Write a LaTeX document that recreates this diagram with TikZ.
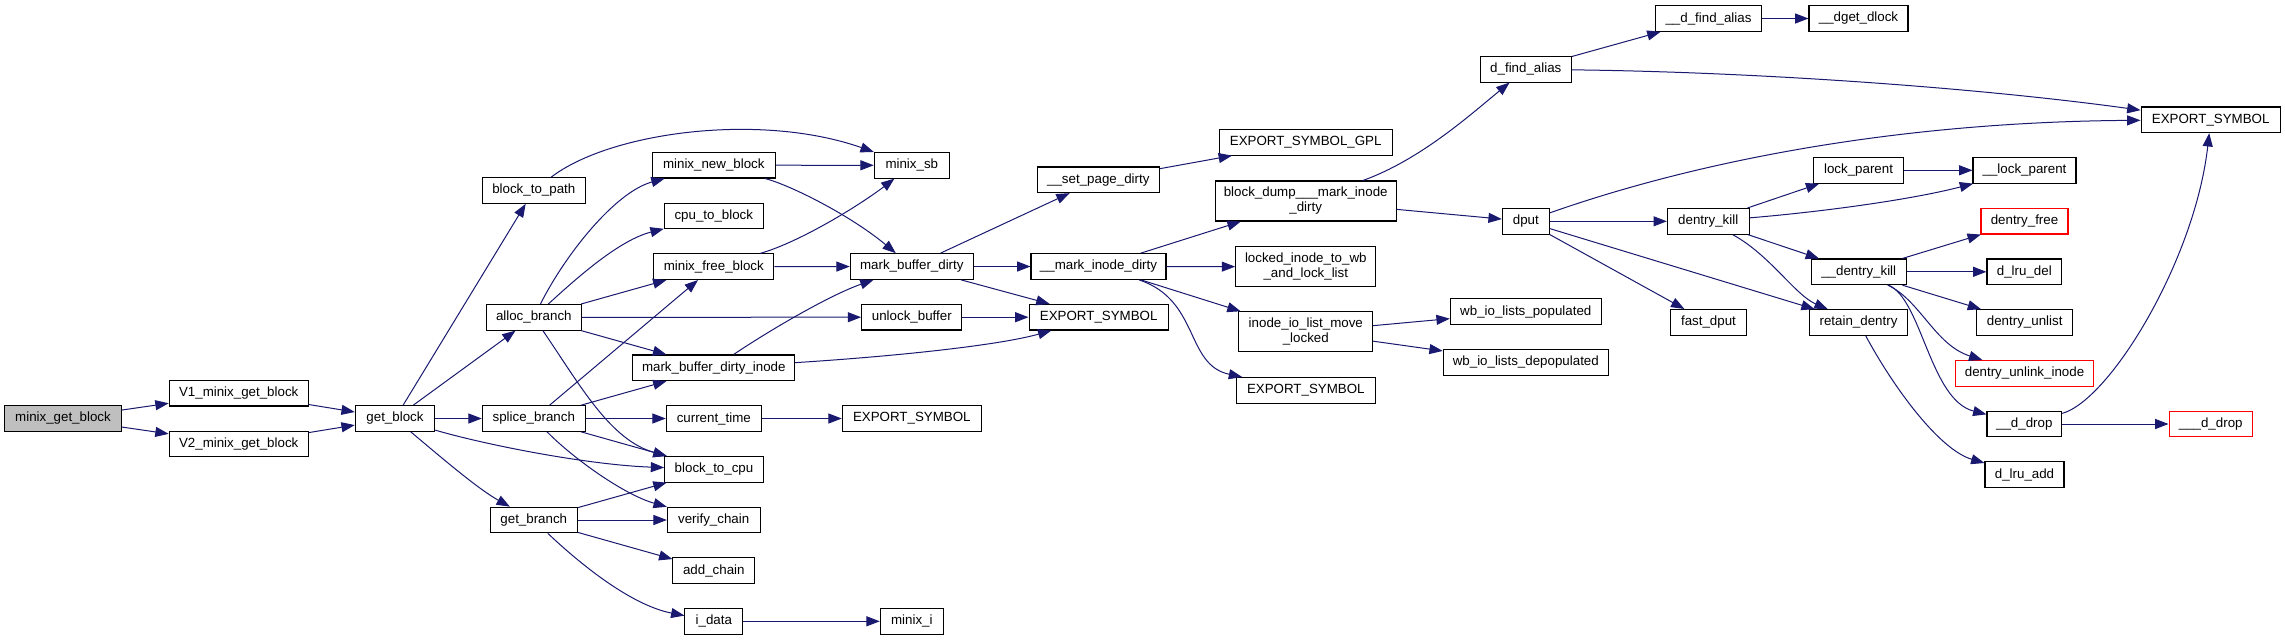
\documentclass[tikz,border=0pt]{standalone}
\usepackage{fontspec}
\setmainfont{Liberation Sans}
\usepackage{xcolor}
\definecolor{edgeblue}{RGB}{25,25,112}
\definecolor{rootgray}{RGB}{191,191,191}
\definecolor{truncred}{RGB}{255,0,0}
\usepackage{tikz}
\usetikzlibrary{arrows.meta}

\begin{document}
\begin{tikzpicture}[
        x=0.75pt, y=-0.75pt,
        func/.style={rectangle, draw=black, line width=0.8pt, fill=white, inner sep=0pt, minimum height=19.2pt, align=center, font=\fontsize{10pt}{11.25pt}\selectfont},
        tall/.style={minimum height=30pt},
        root/.style={func, fill=rootgray},
        trunc/.style={func, draw=truncred},
        wd/.style={minimum width=#1*0.75pt},
        call/.style={-{Triangle[length=10pt,width=7.5pt]}, draw=edgeblue, line width=0.75pt}
    ]
        \path[use as bounding box, fill=white] (0,0) rectangle (2285,640);

        \node[root, wd=117] (mgb) at (63,418.5) {minix\_get\_block};
        \node[func, wd=139] (v1) at (238.7,393.2) {V1\_minix\_get\_block};
        \node[func, wd=139] (v2) at (238.7,444) {V2\_minix\_get\_block};
        \node[func, wd=79.4] (getblock) at (395,418.5) {get\_block};

        \node[func, wd=103] (btopath) at (533.8,190.5) {block\_to\_path};
        \node[func, wd=95] (alloc) at (533.8,317.3) {alloc\_branch};
        \node[func, wd=103] (splice) at (533.8,418.5) {splice\_branch};
        \node[func, wd=87] (getbranch) at (533.8,520) {get\_branch};

        \node[func, wd=123] (newblock) at (713.8,165.2) {minix\_new\_block};
        \node[func, wd=99] (cputob) at (713.8,216) {cpu\_to\_block};
        \node[func, wd=120.3] (freeblock) at (713.8,266.7) {minix\_free\_block};
        \node[func, wd=161.7] (mbdinode) at (713.8,367.8) {mark\_buffer\_dirty\_inode};
        \node[func, wd=95] (curtime) at (713.8,418.5) {current\_time};
        \node[func, wd=98.6] (btocpu) at (714,469.3) {block\_to\_cpu};
        \node[func, wd=92.7] (verify) at (713.7,520) {verify\_chain};
        \node[func, wd=81.7] (addchain) at (713.8,570.7) {add\_chain};
        \node[func, wd=57.7] (idata) at (713.8,621.3) {i\_data};

        \node[func, wd=75] (minixsb) at (911.8,165.3) {minix\_sb};
        \node[func, wd=123] (mbd) at (911.8,266.5) {mark\_buffer\_dirty};
        \node[func, wd=100.3] (unlock) at (911.8,317.2) {unlock\_buffer};
        \node[func, wd=139] (expA) at (911.8,418.5) {EXPORT\_SYMBOL};
        \node[func, wd=63] (minixi) at (911.8,621.3) {minix\_i};

        \node[func, wd=122] (setpage) at (1098.3,179.8) {\_\_set\_page\_dirty};
        \node[func, wd=135] (markinode) at (1098.5,266.5) {\_\_mark\_inode\_dirty};
        \node[func, wd=139.3] (expB) at (1098.7,317.2) {EXPORT\_SYMBOL};

        \node[func, wd=172.7] (expgpl) at (1305.7,142.3) {EXPORT\_SYMBOL\_GPL};
        \node[func, tall, wd=180.7] (blkdump) at (1305.7,201) {block\_dump\_\_\_mark\_inode\\\_dirty};
        \node[func, tall, wd=140.3] (lockedinode) at (1305.8,266.7) {locked\_inode\_to\_wb\\\_and\_lock\_list};
        \node[func, tall, wd=133.7] (iolist) at (1305.8,331.8) {inode\_io\_list\_move\\\_locked};
        \node[func, wd=139] (expC) at (1305.8,390.3) {EXPORT\_SYMBOL};

        \node[func, wd=91] (dfind) at (1525.8,69.3) {d\_find\_alias};
        \node[func, wd=47] (dput) at (1525.8,221.3) {dput};
        \node[func, wd=151] (wbpop) at (1525.8,311.7) {wb\_io\_lists\_populated};
        \node[func, wd=165] (wbdepop) at (1525.8,362.5) {wb\_io\_lists\_depopulated};

        \node[func, wd=105.6] (udfind) at (1708.5,18.5) {\_\_d\_find\_alias};
        \node[func, wd=81.7] (dkill) at (1708.2,221.3) {dentry\_kill};
        \node[func, wd=76.4] (fastdput) at (1708.5,322.3) {fast\_dput};

        \node[func, wd=99] (dget) at (1858.5,18.5) {\_\_dget\_dlock};
        \node[func, wd=89.6] (lockpar) at (1858.5,170.3) {lock\_parent};
        \node[func, wd=95.3] (udkill) at (1858.7,271.8) {\_\_dentry\_kill};
        \node[func, wd=97.6] (retain) at (1858.5,322.5) {retain\_dentry};

        \node[func, wd=103] (ulockpar) at (2024.5,170.3) {\_\_lock\_parent};
        \node[trunc, wd=87] (dfree) at (2024.5,221.2) {dentry\_free};
        \node[func, wd=74.7] (lrudel) at (2024.3,271.8) {d\_lru\_del};
        \node[func, wd=96] (unlist) at (2024.7,322.5) {dentry\_unlist};
        \node[trunc, wd=137.6] (unlinkin) at (2024.5,373.3) {dentry\_unlink\_inode};
        \node[func, wd=74.7] (uddrop) at (2024.3,424) {\_\_d\_drop};
        \node[func, wd=79] (lruadd) at (2024.5,474.7) {d\_lru\_add};

        \node[func, wd=139.3] (expD) at (2210.7,119.8) {EXPORT\_SYMBOL};
        \node[trunc, wd=83.3] (uuddrop) at (2210.7,424) {\_\_\_d\_drop};

        \foreach \a/\b in {mgb/v1, mgb/v2, v1/getblock, v2/getblock, getblock/btopath, getblock/alloc,
                getblock/splice, alloc/freeblock, alloc/unlock, alloc/mbdinode, splice/freeblock,
                splice/mbdinode, splice/curtime, splice/btocpu, getbranch/btocpu, getbranch/verify,
                getbranch/addchain, newblock/minixsb, freeblock/mbd, curtime/expA, idata/minixi,
                mbd/setpage, mbd/markinode, mbd/expB, unlock/expB, setpage/expgpl, markinode/blkdump,
                markinode/lockedinode, markinode/iolist, blkdump/dput, iolist/wbpop, iolist/wbdepop,
                dfind/udfind, dput/dkill, dput/fastdput, dput/retain, udfind/dget, dkill/lockpar,
                dkill/udkill, lockpar/ulockpar, udkill/dfree, udkill/lrudel, udkill/unlist, uddrop/uuddrop} {
            \draw[call] (\a) -- (\b);
        }

        \draw[call] (getblock) .. controls (490,446) and (590,465) .. (btocpu);
        \draw[call] (getblock) .. controls (450,465) and (480,490) .. (getbranch);
        \draw[call] (btopath) .. controls (610,132) and (760,112) .. (minixsb);
        \draw[call] (alloc) .. controls (565,255) and (615,192) .. (newblock);
        \draw[call] (alloc) .. controls (580,275) and (620,240) .. (cputob);
        \draw[call] (alloc) .. controls (580,385) and (610,440) .. (btocpu);
        \draw[call] (splice) .. controls (575,460) and (625,495) .. (verify);
        \draw[call] (getbranch) .. controls (578,562) and (630,605) .. (idata);
        \draw[call] (newblock) .. controls (790,185) and (850,215) .. (mbd);
        \draw[call] (freeblock) .. controls (800,242) and (860,205) .. (minixsb);
        \draw[call] (mbdinode) .. controls (770,330) and (830,295) .. (mbd);
        \draw[call] (mbdinode) .. controls (900,356) and (1000,345) .. (expB);
        \draw[call] (markinode) .. controls (1200,300) and (1185,365) .. (expC);
        \draw[call] (blkdump) .. controls (1420,160) and (1470,115) .. (dfind);
        \draw[call] (dfind) .. controls (1760,72) and (1980,88) .. (expD);
        \draw[call] (dput) .. controls (1700,160) and (1900,122) .. (expD);
        \draw[call] (dkill) .. controls (1820,212) and (1910,200) .. (ulockpar);
        \draw[call] (dkill) .. controls (1770,255) and (1795,295) .. (retain);
        \draw[call] (udkill) .. controls (1920,300) and (1935,345) .. (unlinkin);
        \draw[call] (udkill) .. controls (1922,300) and (1930,400) .. (uddrop);
        \draw[call] (retain) .. controls (1895,390) and (1940,450) .. (lruadd);
        \draw[call] (uddrop) .. controls (2110,400) and (2195,260) .. (expD);
    \end{tikzpicture}
\end{document}
